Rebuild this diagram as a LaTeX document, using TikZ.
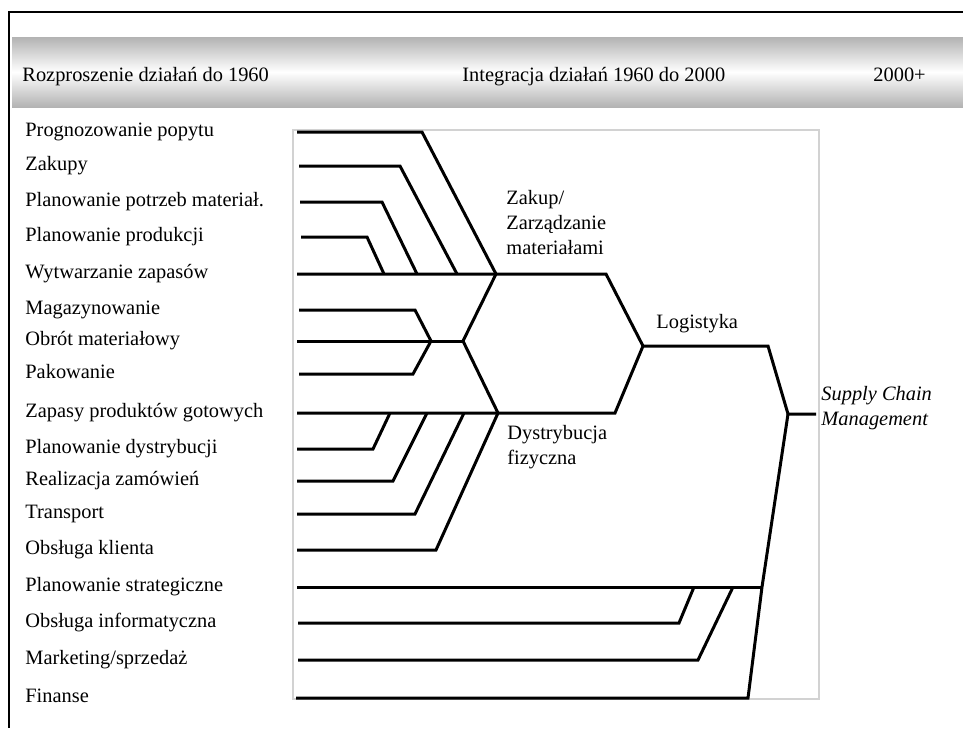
\documentclass[tikz,border=0pt]{standalone}
\usepackage{fontspec}
\setmainfont{Liberation Serif}
\usetikzlibrary{positioning}
\tikzset{
    % etykiety wierszy po lewej
    rowLabel/.style={anchor=base west, inner sep=0pt},
    % napisy w pasku naglowka
    headLabel/.style={anchor=base west, inner sep=0pt},
    % nazwy grup przy rozgalezieniach
    groupLabel/.style={anchor=west, inner sep=0pt, align=left},
    % linie drzewa
    branch/.style={line width=1.5pt, line join=miter},
    % jasna ramka wokol drzewa
    frameLine/.style={draw=gray!35, line width=0.6pt}
}

\begin{document}
\begin{tikzpicture}[x=0.5pt, y=-0.5pt, font=\fontsize{10.2pt}{12.5pt}\selectfont]
	\useasboundingbox (0,0) rectangle (963,728);

	% 1. Ramka i pasek naglowka
	\shade[top color=gray!60, bottom color=gray!60, middle color=white] (12,37) rectangle (963,107);
	\draw[line width=1pt] (963,12) -- (9,12) -- (9,728);
	\node[headLabel] (hDisp) at (22,81) {Rozproszenie działań do 1960};
	\node[headLabel] (hInteg) at (462,81) {Integracja działań 1960 do 2000};
	\node[headLabel] (hNow) at (873,81) {2000+};

	% 2. Etykiety wierszy
	\node[rowLabel] (lPopyt) at (25,136) {Prognozowanie popytu};
	\node[rowLabel] (lZakupy) at (25,170) {Zakupy};
	\node[rowLabel] (lPotrzeby) at (25,206) {Planowanie potrzeb materiał.};
	\node[rowLabel] (lProdukcja) at (25,241) {Planowanie produkcji};
	\node[rowLabel] (lWytw) at (25,278) {Wytwarzanie zapasów};
	\node[rowLabel] (lMagazyn) at (25,314) {Magazynowanie};
	\node[rowLabel] (lObrot) at (25,345) {Obrót materiałowy};
	\node[rowLabel] (lPakowanie) at (25,378) {Pakowanie};
	\node[rowLabel] (lGotowe) at (25,417) {Zapasy produktów gotowych};
	\node[rowLabel] (lDystr) at (25,453) {Planowanie dystrybucji};
	\node[rowLabel] (lZamow) at (25,485) {Realizacja zamówień};
	\node[rowLabel] (lTransport) at (25,518) {Transport};
	\node[rowLabel] (lKlient) at (25,554) {Obsługa klienta};
	\node[rowLabel] (lStrateg) at (25,591) {Planowanie strategiczne};
	\node[rowLabel] (lInform) at (25,627) {Obsługa informatyczna};
	\node[rowLabel] (lMarket) at (25,664) {Marketing/sprzedaż};
	\node[rowLabel] (lFinanse) at (25,702) {Finanse};

	% 3. Jasna ramka drzewa
	\draw[frameLine] (293,130) rectangle (819,699);

	% 4. Poczatki wierszy i wezly
	\coordinate (r1) at (297,132);
	\coordinate (r2) at (299,166);
	\coordinate (r3) at (300,202);
	\coordinate (r4) at (301,237);
	\coordinate (r5) at (297,274);
	\coordinate (r6) at (299,310);
	\coordinate (r7) at (297,341);
	\coordinate (r8) at (299,374);
	\coordinate (r9) at (297,413);
	\coordinate (r10) at (297,449);
	\coordinate (r11) at (297,481);
	\coordinate (r12) at (297,514);
	\coordinate (r13) at (297,550);
	\coordinate (r14) at (297,587);
	\coordinate (r15) at (298,623);
	\coordinate (r16) at (298,660);
	\coordinate (r17) at (296,698);
	\coordinate (jZakup) at (496,274);
	\coordinate (jMid) at (463,341);
	\coordinate (jObrot) at (431,341);
	\coordinate (jDystr) at (498,413);
	\coordinate (jLog) at (643,346);
	\coordinate (jScm) at (788,414);
	\coordinate (jStrat) at (762,587);
	\coordinate (scmEnd) at (816,414);

	% 5. Zakup / Zarzadzanie materialami
	\draw[branch] (r1) -- (422,132) -- (jZakup);
	\draw[branch] (r2) -- (400,166) -- (457,274);
	\draw[branch] (r3) -- (382,202) -- (417,274);
	\draw[branch] (r4) -- (367,237) -- (384,274);
	\draw[branch] (r5) -- (jZakup) -- (606,274) -- (jLog);

	% 6. Srodek: magazyn, obrot, pakowanie
	\draw[branch] (jZakup) -- (jMid) -- (jDystr);
	\draw[branch] (r6) -- (415,310) -- (jObrot);
	\draw[branch] (r8) -- (413,374) -- (jObrot);
	\draw[branch] (r7) -- (jObrot) -- (jMid);

	% 7. Dystrybucja fizyczna
	\draw[branch] (r9) -- (jDystr) -- (615,413) -- (jLog);
	\draw[branch] (r10) -- (373,449) -- (390,413);
	\draw[branch] (r11) -- (393,481) -- (427,413);
	\draw[branch] (r12) -- (415,514) -- (464,413);
	\draw[branch] (r13) -- (436,550) -- (jDystr);

	% 8. Logistyka i Supply Chain Management
	\draw[branch] (jLog) -- (768,346) -- (jScm) -- (scmEnd);
	\draw[branch] (jScm) -- (jStrat) -- (748,698) -- (r17);
	\draw[branch] (r14) -- (jStrat);
	\draw[branch] (r15) -- (679,623) -- (694,587);
	\draw[branch] (r16) -- (698,660) -- (733,587);

	% 9. Nazwy grup
	\node[groupLabel] (gZakup) at (506,223) {Zakup/\\Zarządzanie\\materiałami};
	\node[groupLabel, anchor=base west] (gLog) at (656,328) {Logistyka};
	\node[groupLabel] (gDystr) at (507,447) {Dystrybucja\\fizyczna};
	\node[groupLabel, font=\fontsize{10.2pt}{12.5pt}\selectfont\itshape] (gScm) at (821,408) {Supply Chain\\Management};

\end{tikzpicture}
\end{document}
